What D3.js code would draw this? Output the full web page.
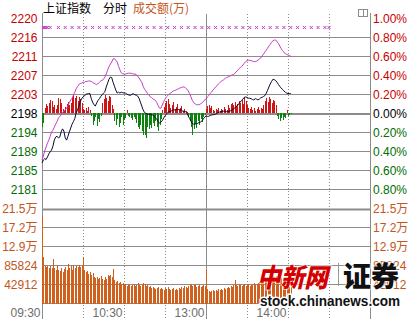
<!DOCTYPE html>
<html><head><meta charset="utf-8">
<script src="https://cdn.jsdelivr.net/npm/d3@7/dist/d3.min.js"></script>
<style>body{margin:0;background:#fff;} svg{display:block;}</style>
</head><body><svg id="c" width="412" height="319"></svg>
<script>
// ---------- data ----------
const basePrice = 2198.2;
const priceTicks = ["2220","2216","2211","2207","2203","2198","2194","2189","2185","2181"];
const pctTickValues = [1.0,0.8,0.6,0.4,0.2,0,-0.2,-0.4,-0.6,-0.8];
const volTickValues = [214560,171648,128736,85824,42912];
const volTicks = ["21.5万","17.2万","12.9万","85824","42912"];
const timeLabels = ["09:30","10:30","13:00","14:00"];
const timeLabelMinutes = [0,60,120,180];
const gridMinutes = [30,60,90,120,150,180,210];
const solidGridMinutes = [120];
const headerTitle = "上证指数";
const headerMode = "分时";
const headerUnit = "成交额(万)";

// index price per minute (black line)
const price = [
2186.7,2187.4,2187.7,2187.5,2188.1,2188.8,2189.3,2189.7,2190.6,2192.0,
2192.7,2192.9,2192.5,2192.7,2193.9,2194.6,2194.1,2192.5,2192.0,2192.9,
2193.9,2194.8,2195.7,2196.3,2197.0,2198.3,2199.0,2199.9,2200.9,2201.6,
2202.0,2202.2,2202.6,2202.7,2202.8,2202.8,2201.7,2200.8,2200.2,2199.9,
2200.6,2201.2,2201.6,2202.1,2202.5,2202.9,2203.2,2204.3,2205.2,2206.1,
2206.6,2206.5,2205.4,2204.5,2203.6,2202.9,2203.1,2202.9,2203.1,2203.0,
2202.9,2202.9,2202.7,2202.5,2202.4,2202.4,2202.7,2202.7,2202.5,2202.4,
2202.2,2201.7,2200.8,2199.9,2199.0,2198.4,2198.2,2198.0,2198.0,2198.0,
2197.9,2197.8,2197.6,2197.2,2196.9,2196.3,2195.9,2196.2,2196.5,2197.1,
2197.6,2198.0,2198.4,2198.6,2198.7,2198.8,2199.0,2199.0,2199.1,2199.1,
2199.1,2199.0,2199.0,2198.7,2198.7,2198.6,2198.3,2197.6,2197.0,2196.4,
2195.8,2195.7,2195.7,2195.8,2195.9,2196.1,2196.2,2196.4,2196.9,2197.3,
2197.6,2197.5,2197.5,2197.7,2197.8,2197.9,2197.9,2198.0,2198.2,2198.4,
2198.5,2198.6,2198.7,2198.7,2198.7,2198.6,2198.6,2198.7,2198.8,2199.0,
2199.2,2199.4,2199.8,2200.0,2200.4,2200.8,2201.2,2201.5,2201.9,2202.0,
2201.9,2201.7,2201.7,2201.6,2201.4,2201.3,2201.6,2201.5,2201.3,2201.5,
2201.8,2201.9,2202.1,2202.3,2202.8,2203.5,2204.3,2205.0,2205.6,2206.1,
2206.0,2205.8,2205.4,2204.9,2204.4,2204.1,2203.7,2203.4,2203.1,2202.9,
2202.8,2202.8,2202.8];

// second (magenta) line per minute
const avgLine = [
2187.4,2188.3,2189.5,2190.4,2191.3,2192.0,2192.9,2193.9,2194.3,2195.0,
2195.7,2196.3,2197.1,2197.5,2197.8,2198.4,2198.7,2199.0,2199.4,2200.0,
2200.7,2201.3,2201.7,2202.4,2203.1,2203.9,2204.4,2204.9,2205.1,2205.2,
2205.4,2205.4,2205.6,2205.6,2205.7,2205.7,2205.6,2205.4,2205.2,2205.0,
2204.9,2205.1,2205.4,2205.7,2205.9,2206.1,2206.6,2207.3,2208.2,2209.0,
2209.6,2210.1,2210.8,2210.9,2210.5,2210.1,2209.1,2208.3,2207.6,2207.4,
2207.3,2207.3,2207.4,2207.5,2207.5,2207.5,2207.4,2207.3,2207.3,2207.2,
2206.8,2206.4,2205.9,2205.4,2204.5,2203.8,2203.4,2202.9,2202.6,2202.1,
2201.9,2201.6,2201.4,2201.2,2200.7,2200.0,2199.4,2199.4,2200.1,2200.9,
2201.5,2202.0,2202.3,2202.7,2202.9,2203.1,2203.4,2203.5,2203.6,2203.8,
2203.9,2204.1,2204.2,2204.3,2204.3,2204.1,2203.8,2203.4,2202.8,2202.0,
2201.2,2200.7,2200.4,2200.2,2200.2,2200.2,2200.4,2200.6,2200.9,2201.3,
2201.5,2202.0,2202.3,2202.8,2203.1,2203.6,2203.9,2204.3,2204.6,2205.0,
2205.3,2205.6,2205.8,2206.0,2206.3,2206.5,2206.6,2206.8,2206.9,2207.1,
2207.2,2207.4,2207.8,2208.1,2208.5,2208.8,2209.0,2209.4,2209.8,2210.2,
2210.4,2210.5,2210.5,2210.4,2210.3,2210.2,2210.2,2210.3,2210.5,2210.8,
2211.0,2211.5,2211.9,2212.4,2212.8,2213.3,2213.8,2214.2,2214.7,2215.0,
2215.2,2215.2,2214.8,2214.4,2213.8,2213.2,2212.7,2212.4,2212.0,2211.9,
2211.7,2211.6,2211.5];

// red/green strength bars per minute
const strength = [
-14,-10,5,9,7,10,13,12,6,8,
4,8,15,14,10,4,2,6,9,11,
8,10,16,18,15,17,12,16,14,10,
4,3,5,2,6,3,-3,-12,-8,-4,
-13,-6,-9,-3,10,14,18,15,12,17,
16,8,4,-8,-12,-6,-14,-10,-4,-12,
-7,-5,3,-3,-4,-5,-7,-4,-6,-10,
-14,-16,-12,-18,-22,-22,-25,-14,-16,-12,
-15,-10,-13,-8,-14,-18,-12,-6,3,6,
10,12,14,9,5,8,11,4,6,9,
3,5,7,2,4,2,1,-3,-8,-14,
-22,-16,-11,-15,-8,-12,-6,-9,-4,-2,
4,7,8,5,7,3,2,4,3,5,
2,4,3,6,4,3,8,5,9,10,
8,11,7,9,12,10,13,9,16,12,
8,5,4,6,3,5,2,4,6,3,
5,4,8,12,15,11,16,14,10,13,
12,8,-3,-6,-8,-5,-7,-4,-5,3,
-3,-2,-1];

// turnover per minute (万)
const volume = [
198300,105000,84700,82400,85800,81300,84700,80200,100500,80200,
75700,84700,75700,73400,80200,71100,77900,82400,75700,89200,
80200,84700,75700,86900,80200,84700,82400,86900,82400,84700,
105000,75700,71100,73400,66600,71100,64400,68900,59800,57600,
59800,55300,57600,62100,55300,53100,59800,55300,64400,62100,
64400,59800,77900,53100,48600,50800,46300,48600,44000,46300,
41800,44000,39500,44000,41800,39500,41800,44000,39500,41800,
46300,41800,39500,41800,46300,44000,39500,41800,37300,39500,
35000,37300,35000,32700,35000,37300,32700,35000,32700,30500,
35000,32700,37300,32700,30500,32700,35000,30500,32700,30500,
35000,32700,37300,35000,39500,37300,35000,39500,41800,44000,
39500,44000,41800,37300,39500,41800,37300,39500,41800,39500,
75700,32700,28200,26000,28200,30500,28200,30500,28200,32700,
30500,32700,30500,35000,32700,35000,37300,35000,39500,37300,
41800,53100,41800,39500,44000,41800,39500,41800,44000,39500,
41800,44000,39500,41800,44000,46300,41800,44000,46300,48600,
46300,50800,53100,50800,55300,53100,57600,59800,57600,62100,
59800,62100,57600,59800,55300,57600,53100,55300,50800,46300,
41800,37300,39500];

// signal marks (×) along the top row, minute positions
const markMinutes = [1,2,3,4,6,12,17,22,27,32,37,42,47,52,57,62,67,72,77,82,87,92,97,102,107,112,117,122,127,132,137,142,147,152,157,162,167,172,177,182,187,192,197,202,207,210];

// ---------- drawing ----------
const svg = d3.select("#c");
const L = 42, R = 370;
const numFont = "'Liberation Sans', Arial, 'Noto Sans CJK SC', sans-serif";
const cjkFont = "'Noto Sans CJK SC', sans-serif";
const C = {grid:"#8c8c8c", red:"#c80000", green:"#006e00", black:"#000000",
  orange:"#c4561c", volBar:"#d0601e", upBar:"#d01414", dnBar:"#0e820e",
  line:"#0a0a36", mag:"#c83cc8", time:"#6e6e6e"};

const x = d3.scaleLinear().domain([0,240]).range([L,R]);
const yP = d3.scaleLinear().domain([basePrice*0.99, basePrice*1.01]).range([208.2, 18.5]);
const yS = d3.scaleLinear().domain([-95,95]).range([208.2, 18.5]);
const yV = d3.scaleLinear().domain([0, 214560]).range([303.5, 208.5]);
const px = v => Math.floor(v) + 0.5;

const grid = svg.append("g");
// vertical lines
gridMinutes.forEach(m => {
  const solid = solidGridMinutes.includes(m);
  grid.append("line").attr("x1", px(x(m))).attr("x2", px(x(m))).attr("y1", 14).attr("y2", 319)
    .attr("stroke", C.grid).attr("stroke-width", 1)
    .attr("stroke-dasharray", solid ? null : "1,2");
});
[0,240].forEach(m => grid.append("line").attr("x1", px(x(m))).attr("x2", px(x(m)))
  .attr("y1", 13).attr("y2", 319).attr("stroke", C.grid));

// price panel horizontal lines
pctTickValues.forEach(p => {
  if (p === 1.0) return;
  const y = yP(basePrice*(1+p/100));
  if (p === 0) {
    grid.append("line").attr("x1", L).attr("x2", R).attr("y1", Math.round(y)+1).attr("y2", Math.round(y)+1)
      .attr("stroke", C.grid).attr("stroke-width", 2);
  } else {
    grid.append("line").attr("x1", L).attr("x2", R).attr("y1", px(y)).attr("y2", px(y)).attr("stroke", C.grid);
  }
});
// volume panel horizontal lines
volTickValues.forEach((v,i) => {
  const y = yV(v);
  if (i === 0) {
    grid.append("line").attr("x1", L).attr("x2", R).attr("y1", Math.round(y)+0.5).attr("y2", Math.round(y)+0.5)
      .attr("stroke", C.grid).attr("stroke-width", 2);
  } else {
    grid.append("line").attr("x1", L).attr("x2", R).attr("y1", px(y)).attr("y2", px(y)).attr("stroke", C.grid);
  }
});
grid.append("line").attr("x1", L).attr("x2", R).attr("y1", px(yV(0))).attr("y2", px(yV(0))).attr("stroke", C.grid);

// strength bars
const y0S = yS(0);
svg.append("g").attr("shape-rendering","crispEdges").selectAll("rect").data(strength).join("rect")
  .attr("x", (d,i) => Math.round(x(i)))
  .attr("width", 1)
  .attr("y", d => d >= 0 ? yS(d) : y0S)
  .attr("height", d => Math.abs(yS(d) - y0S))
  .attr("fill", d => d >= 0 ? C.upBar : C.dnBar);

// volume bars
svg.append("g").attr("shape-rendering","crispEdges").selectAll("rect").data(volume).join("rect")
  .attr("x", (d,i) => Math.round(x(i)))
  .attr("width", 1)
  .attr("y", d => yV(d))
  .attr("height", d => yV(0) - yV(d))
  .attr("fill", C.volBar);

// lines
const lineGen = d3.line().x((d,i) => x(i)).y(d => yP(d));
svg.append("path").datum(avgLine).attr("d", lineGen).attr("fill","none").attr("stroke", C.mag).attr("stroke-width",1);
svg.append("path").datum(price).attr("d", lineGen).attr("fill","none").attr("stroke", C.line).attr("stroke-width",1);

// × marks
svg.append("g").selectAll("path").data(markMinutes).join("path")
  .attr("d", m => { const cx = x(m), cy = 27.5; return `M${cx-1.5},${cy-1.5}L${cx+1.5},${cy+1.5}M${cx+1.5},${cy-1.5}L${cx-1.5},${cy+1.5}`; })
  .attr("stroke", C.mag).attr("stroke-width", 1).attr("fill","none");

// axis labels
const lab = svg.append("g").attr("font-family", numFont).attr("font-size", 12);
pctTickValues.forEach((p,i) => {
  const y = yP(basePrice*(1+p/100));
  const col = p > 0 ? C.red : (p < 0 ? C.green : C.black);
  lab.append("text").attr("x", 37.5).attr("y", y).attr("dy","0.36em").attr("text-anchor","end").attr("fill", col).text(priceTicks[i]);
  lab.append("text").attr("x", 373).attr("y", y).attr("dy","0.36em").attr("fill", col).text(d3.format(".2f")(Math.abs(p)) + "%");
});
volTickValues.forEach((v,i) => {
  const y = yV(v);
  lab.append("text").attr("x", 37.5).attr("y", y).attr("dy","0.36em").attr("text-anchor","end").attr("fill", C.orange).text(volTicks[i]);
  lab.append("text").attr("x", 373).attr("y", y).attr("dy","0.36em").attr("fill", C.orange).text(volTicks[i]);
});
timeLabelMinutes.forEach((m,i) => {
  lab.append("text").attr("x", x(m) - 1.5).attr("y", 316.5).attr("text-anchor","end").attr("fill", C.time).text(timeLabels[i]);
});

// header
const hdr = svg.append("g").attr("font-family", cjkFont).attr("font-size", 12);
hdr.append("text").attr("x", 43).attr("y", 13).attr("fill", "#000").text(headerTitle);
hdr.append("text").attr("x", 103).attr("y", 13).attr("fill", "#000").text(headerMode);
hdr.append("text").attr("x", 133).attr("y", 13).attr("fill", C.orange).text(headerUnit);

// small icon top right
svg.append("rect").attr("x", 358.5).attr("y", 9.5).attr("width", 9).attr("height", 7).attr("fill","#fff").attr("stroke","#8c8c8c");
svg.append("line").attr("x1", 363.5).attr("x2", 363.5).attr("y1", 9.5).attr("y2", 16.5).attr("stroke","#8c8c8c");

// watermark
const wm = svg.append("g");
wm.append("text").attr("x", 257).attr("y", 287).attr("font-family", cjkFont).attr("font-size", 26).attr("font-weight", 900)
  .attr("font-style","italic").attr("fill", "#d40000").attr("textLength", 71).attr("lengthAdjust","spacingAndGlyphs")
  .attr("stroke","#fff").attr("stroke-width",2).attr("stroke-opacity",0.6).attr("paint-order","stroke").text("中新网");
wm.append("line").attr("x1", 338.5).attr("x2", 338.5).attr("y1", 263).attr("y2", 286).attr("stroke", "#999");
wm.append("text").attr("x", 343).attr("y", 287).attr("font-family", cjkFont).attr("font-size", 28).attr("font-weight", 900)
  .attr("fill", "#111").attr("stroke","#fff").attr("stroke-width",2).attr("stroke-opacity",0.6).attr("paint-order","stroke").text("证券");
wm.append("text").attr("x", 260).attr("y", 305.5).attr("font-family", numFont).attr("font-size", 14).attr("font-weight", 700)
  .attr("fill", "#111").attr("textLength", 140).attr("lengthAdjust","spacingAndGlyphs")
  .attr("stroke","#fff").attr("stroke-width",3).attr("paint-order","stroke").text("stock.chinanews.com");
</script></body></html>
